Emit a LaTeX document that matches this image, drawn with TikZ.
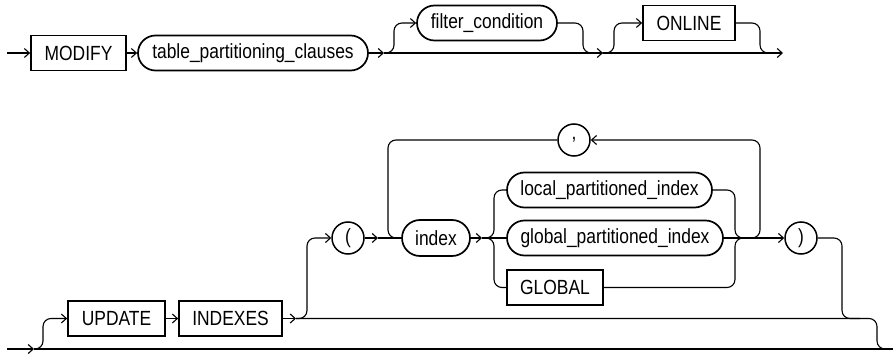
\documentclass[tikz,border=0pt]{standalone}
\usepackage{fontspec}
\setmainfont{Liberation Sans}[FakeStretch=0.85]
\usetikzlibrary{arrows.meta}
\begin{document}
\begin{tikzpicture}[x=1pt,y=-1pt,
  lbl/.style={font=\fontsize{20.5}{24}\selectfont},
  kw/.style={lbl, draw, line width=1.7pt, rectangle, minimum height=35pt, inner sep=0pt},
  nt/.style={kw, rounded corners=17.5pt},
  circ/.style={lbl, draw, circle, line width=1.5pt, minimum size=32pt, inner sep=0pt},
  con/.style={line width=1.1pt, rounded corners=8pt},
  arr/.style={con, -{Straight Barb[length=5pt,width=9pt]}}]
\useasboundingbox (0,0) rectangle (893,358);
% top row
\node[kw, minimum width=95pt] (modify) at (78.5,53) {MODIFY};
\node[nt, minimum width=230pt] (tpc) at (253,53) {table\_partitioning\_clauses};
\node[nt, minimum width=140pt] (fc) at (487,23) {filter\_condition};
\node[kw, minimum width=92pt] (online) at (689,23) {ONLINE};
\coordinate (s1) at (7,53);
\coordinate (j1) at (384,53);
\coordinate (j2) at (603,53);
\coordinate (e1) at (783,53);
\draw[arr] (s1) -- (modify.west);
\draw[arr] (modify.east) -- (tpc.west);
\draw[arr] (tpc.east) -- (j1);
\draw[arr] (j1) -- (j2);
\draw[arr] (j1) -- (394,53) -- (394,23) -- (fc.west);
\draw[con] (fc.east) -- (583,23) -- (583,53) -- (j2);
\draw[arr] (j2) -- (e1);
\draw[arr] (j2) -- (614,53) -- (614,23) -- (online.west);
\draw[con] (online.east) -- (760,23) -- (760,53) -- (776,53);
% bottom part
\node[kw, minimum width=97pt] (update) at (116.5,318.5) {UPDATE};
\node[kw, minimum width=103pt] (indexes) at (230.5,318.5) {INDEXES};
\node[circ] (lp) at (348,238) {(};
\node[nt, minimum width=68pt, minimum height=36pt, rounded corners=18pt] (index) at (436,238) {index};
\node[nt, minimum width=205pt] (lpi) at (609.5,190) {local\_partitioned\_index};
\node[nt, minimum width=216pt] (gpi) at (615,238) {global\_partitioned\_index};
\node[kw, minimum width=96pt] (glob) at (555,287.5) {GLOBAL};
\node[circ] (comma) at (574,140) {,};
\node[circ] (rp) at (801,238) {)};
\coordinate (s2) at (7,349);
\coordinate (j0) at (34,349);
\coordinate (e2) at (893,349);
\coordinate (j3) at (296,318.5);
\coordinate (j4) at (378,238);
\coordinate (j5) at (482,238);
\draw[arr] (s2) -- (j0);
\draw[con] (j0) -- (e2);
\draw[arr] (j0) -- (43,349) -- (43,318.5) -- (update.west);
\draw[arr] (update.east) -- (indexes.west);
\draw[arr] (indexes.east) -- (j3);
\draw[con] (j3) -- (877,318.5) -- (877,349) -- (e2);
\draw[arr] (j3) -- (307,318.5) -- (307,238) -- (lp.west);
\draw[arr] (lp.east) -- (j4);
\draw[con] (j4) -- (index.west);
\draw[arr] (index.east) -- (j5);
\draw[con] (j5) -- (gpi.west);
\draw[con] (j5) -- (494,238) -- (494,190) -- (lpi.west);
\draw[con] (j5) -- (494,238) -- (494,287.5) -- (glob.west);
\draw[con] (lpi.east) -- (735,190) -- (735,238) -- (748,238);
\draw[con] (glob.east) -- (735,287.5) -- (735,238) -- (748,238);
\draw[arr] (gpi.east) -- (rp.west);
\draw[arr] (746,238) -- (760,238) -- (760,140) -- (comma.east);
\draw[con] (comma.west) -- (388,140) -- (388,238) -- (index.west);
\draw[con] (rp.east) -- (842,238) -- (842,318.5) -- (860,318.5);
\end{tikzpicture}
\end{document}
